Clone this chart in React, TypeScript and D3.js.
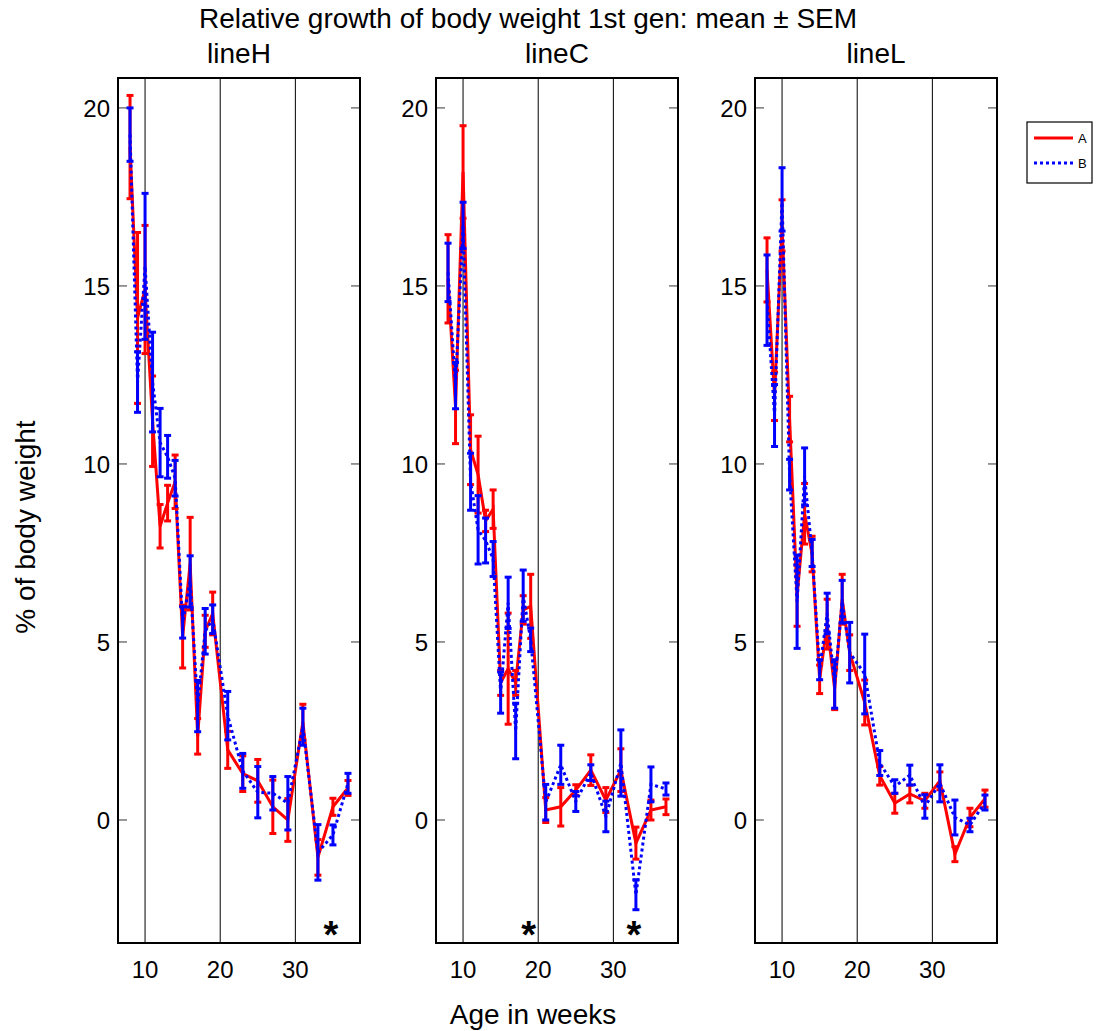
import React from 'react';
import * as d3 from 'd3';

// weeks of age at which body weight was sampled
const weeks = [8, 9, 10, 11, 12, 13, 14, 15, 16, 17, 18, 19, 21, 23, 25, 27, 29, 31, 33, 35, 37];

const lineH_A = [18.9, 14.1, 14.9, 11.2, 8.25, 8.9, 9.5, 5.15, 7.2, 2.35, 5.3, 5.8, 1.97, 1.3, 1.1, 0.37, 0.0, 2.75, -1.05, 0.37, 0.9];
const lineH_A_sem = [1.45, 2.4, 1.8, 1.27, 0.61, 0.5, 0.75, 0.88, 1.3, 0.5, 0.45, 0.6, 0.52, 0.5, 0.6, 0.75, 0.6, 0.5, 0.5, 0.24, 0.21];
const lineH_B = [19.25, 12.3, 15.55, 12.3, 10.6, 10.2, 9.6, 5.55, 6.7, 3.2, 5.3, 5.64, 2.93, 1.38, 0.78, 0.75, 0.47, 2.62, -0.91, -0.42, 1.03];
const lineH_B_sem = [0.75, 0.85, 2.05, 1.4, 0.96, 0.6, 0.5, 0.44, 0.72, 0.72, 0.64, 0.4, 0.68, 0.49, 0.72, 0.47, 0.75, 0.52, 0.78, 0.28, 0.28];

const lineC_A = [15.2, 11.6, 18.2, 10.4, 9.7, 8.4, 8.73, 3.85, 4.25, 3.85, 5.9, 6.0, 0.28, 0.37, 0.84, 1.4, 0.56, 1.4, -0.65, 0.28, 0.37];
const lineC_A_sem = [1.24, 1.03, 1.3, 0.98, 1.08, 0.3, 0.54, 0.35, 1.56, 0.35, 0.4, 0.9, 0.35, 0.54, 0.15, 0.43, 0.35, 0.6, 0.45, 0.28, 0.22];
const lineC_B = [15.38, 12.2, 16.7, 9.5, 8.15, 7.85, 7.33, 3.58, 6.1, 2.5, 6.3, 5.06, 0.5, 1.55, 0.52, 1.33, 0.1, 1.6, -2.1, 1.0, 0.87];
const lineC_B_sem = [0.82, 0.65, 0.65, 0.8, 0.96, 0.63, 0.49, 0.58, 0.72, 0.78, 0.72, 0.33, 0.5, 0.55, 0.28, 0.22, 0.43, 0.93, 0.42, 0.49, 0.17];

const lineL_A = [15.45, 11.9, 16.7, 11.26, 6.3, 8.6, 7.47, 3.95, 5.5, 3.68, 6.2, 4.7, 3.3, 1.24, 0.47, 0.73, 0.54, 1.1, -0.96, 0.07, 0.6];
const lineL_A_sem = [0.9, 0.68, 0.72, 0.64, 0.86, 0.85, 0.5, 0.4, 0.7, 0.58, 0.7, 0.5, 0.63, 0.26, 0.28, 0.25, 0.21, 0.25, 0.21, 0.26, 0.24];
const lineL_B = [14.6, 11.36, 17.43, 9.7, 6.13, 9.65, 7.5, 4.22, 5.8, 3.82, 6.13, 4.7, 4.1, 1.6, 0.94, 1.26, 0.38, 1.03, 0.07, -0.14, 0.49];
const lineL_B_sem = [1.27, 0.87, 0.89, 0.43, 1.31, 0.8, 0.38, 0.28, 0.57, 0.68, 0.6, 0.85, 1.12, 0.35, 0.19, 0.28, 0.33, 0.52, 0.49, 0.19, 0.21];

const panelNames = ['lineH', 'lineC', 'lineL'];
const seriesNames = ['A', 'B'];
const yTicks = [0, 5, 10, 15, 20];
const xTicks = [10, 20, 30];
// weeks marked as significant
const starWeeks = [[35], [19, 33], []];

const panels = [
  { name: panelNames[0], A: lineH_A, Asem: lineH_A_sem, B: lineH_B, Bsem: lineH_B_sem, stars: starWeeks[0] },
  { name: panelNames[1], A: lineC_A, Asem: lineC_A_sem, B: lineC_B, Bsem: lineC_B_sem, stars: starWeeks[1] },
  { name: panelNames[2], A: lineL_A, Asem: lineL_A_sem, B: lineL_B, Bsem: lineL_B_sem, stars: starWeeks[2] },
];

const font = '"Liberation Sans", Arial, Helvetica, sans-serif';
const W = 1097;
const H = 1031;
const top = 78;
const bottom = 943;
const panelLeft = [118, 436, 755];
const panelW = 242;

const yScale = d3.scaleLinear().domain([-3.455, 20.84]).range([bottom, top]);

const colors = { A: '#ff0000', B: '#0000ff' };

function Series({ x, vals, sems, color, dashed }) {
  const line = d3.line<number>()
    .x((d, i) => x(weeks[i]))
    .y((d) => yScale(d));
  const cap = 3.5;
  return (
    <g>
      <path d={line(vals) || ''} fill="none" stroke={color} strokeWidth={3}
        strokeDasharray={dashed ? '3,3' : undefined} />
      {vals.map((v, i) => {
        const cx = x(weeks[i]);
        const y1 = yScale(v + sems[i]);
        const y2 = yScale(v - sems[i]);
        return (
          <g key={i} stroke={color} strokeWidth={3}>
            <line x1={cx} x2={cx} y1={y1} y2={y2} />
            <line x1={cx - cap} x2={cx + cap} y1={y1} y2={y1} />
            <line x1={cx - cap} x2={cx + cap} y1={y2} y2={y2} />
          </g>
        );
      })}
    </g>
  );
}

function Panel({ p, left }) {
  const x = d3.scaleLinear().domain([6.4, 38.6]).range([left, left + panelW]);
  const right = left + panelW;
  return (
    <g>
      {xTicks.map((t) => (
        <line key={t} x1={x(t)} x2={x(t)} y1={top} y2={bottom} stroke="#000" strokeWidth={1} />
      ))}
      {yTicks.map((t) => (
        <g key={t} stroke="#555" strokeWidth={1.2}>
          <line x1={left} x2={left + 9} y1={yScale(t)} y2={yScale(t)} />
          <line x1={right - 9} x2={right} y1={yScale(t)} y2={yScale(t)} />
        </g>
      ))}
      <rect x={left} y={top} width={panelW} height={bottom - top} fill="none" stroke="#000" strokeWidth={2} />
      {yTicks.map((t) => (
        <text key={t} x={left - 8} y={yScale(t)} dy="0.36em" textAnchor="end" fontSize={24} fontFamily={font}>{t}</text>
      ))}
      {xTicks.map((t) => (
        <text key={t} x={x(t)} y={bottom + 35} textAnchor="middle" fontSize={24} fontFamily={font}>{t}</text>
      ))}
      <text x={(left + right) / 2} y={63} textAnchor="middle" fontSize={28} fontFamily={font}>{p.name}</text>
      <Series x={x} vals={p.A} sems={p.Asem} color={colors.A} dashed={false} />
      <Series x={x} vals={p.B} sems={p.Bsem} color={colors.B} dashed={true} />
      {p.stars.map((w) => (
        <text key={w} x={x(w) - 2} y={bottom + 5} textAnchor="middle" fontSize={38} fontWeight="bold" fontFamily={font}>*</text>
      ))}
    </g>
  );
}

export default function App() {
  return (
    <svg width={W} height={H} style={{ position: 'absolute', left: 0, top: 0, background: '#fff' }}>
      <rect width={W} height={H} fill="#fff" />
      <text x={528} y={28} textAnchor="middle" fontSize={28} fontFamily={font}>
        Relative growth of body weight 1st gen: mean ± SEM
      </text>
      {panels.map((p, i) => (
        <Panel key={p.name} p={p} left={panelLeft[i]} />
      ))}
      <text x={533} y={1024} textAnchor="middle" fontSize={28} fontFamily={font}>Age in weeks</text>
      <text transform="translate(35,527) rotate(-90)" textAnchor="middle" fontSize={28} fontFamily={font}>% of body weight</text>
      <g>
        <rect x={1027} y={122} width={65} height={61} fill="#fff" stroke="#000" strokeWidth={1.2} />
        {seriesNames.map((s, i) => (
          <g key={s}>
            <line x1={1034} x2={1073} y1={138 + i * 25} y2={138 + i * 25} stroke={colors[s]} strokeWidth={3}
              strokeDasharray={i === 1 ? '3,3' : undefined} />
            <text x={1078} y={138 + i * 25} dy="0.36em" fontSize={13} fontFamily={font}>{s}</text>
          </g>
        ))}
      </g>
    </svg>
  );
}
